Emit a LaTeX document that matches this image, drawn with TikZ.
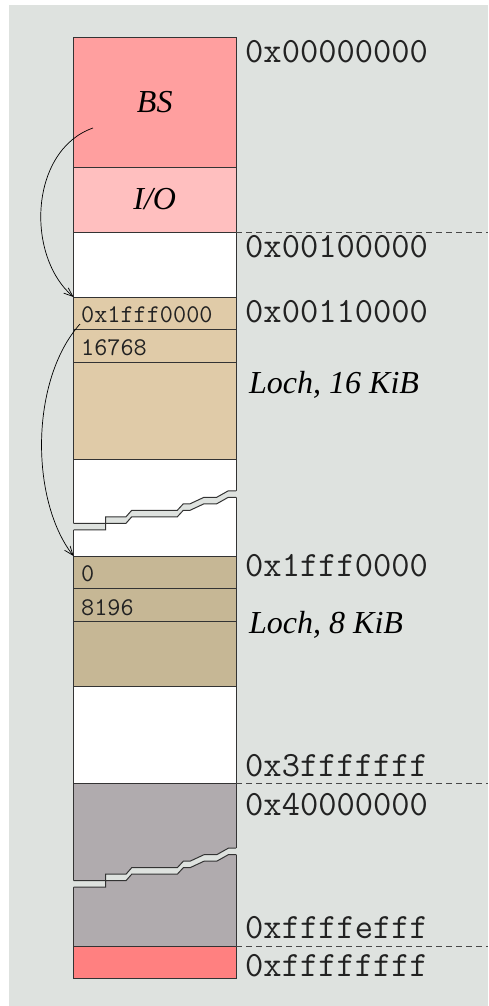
\documentclass[tikz,border=0pt]{standalone}
\usepackage{fontspec}
\setmainfont{Liberation Serif}
\usetikzlibrary{arrows.meta}
\definecolor{bgc}{HTML}{DEE2DF}
\definecolor{bsc}{HTML}{FF9F9F}
\definecolor{ioc}{HTML}{FFBFBF}
\definecolor{tanA}{HTML}{E0CBA8}
\definecolor{tanB}{HTML}{C6B795}
\definecolor{greyc}{HTML}{B0ABAE}
\definecolor{redc}{HTML}{FF8080}
\definecolor{linec}{HTML}{333333}
\definecolor{txtc}{HTML}{222222}
\newcommand\membreak[1]{%
  \begin{scope}[shift={(73.5,#1)}]
    \fill[bgc] (-1,0) -- (32.2,0) -- (32.2,-6.5) -- (52.5,-6.5) -- (58.2,-13) -- (103.8,-13) -- (109.8,-19.5) -- (116.5,-19.5) -- (130.5,-26) -- (143.2,-26) -- (154.8,-32.5) -- (163.5,-32.5)
      -- (163.5,-26) -- (154.8,-26) -- (143.2,-19.5) -- (130.5,-19.5) -- (116.5,-13) -- (109.8,-13) -- (103.8,-6.5) -- (58.2,-6.5) -- (52.5,0) -- (32.2,0) -- (32.2,6.5) -- (-1,6.5) -- cycle;
    \draw[brkline] (0,0) -- (32.2,0) -- (32.2,-6.5) -- (52.5,-6.5) -- (58.2,-13) -- (103.8,-13) -- (109.8,-19.5) -- (116.5,-19.5) -- (130.5,-26) -- (143.2,-26) -- (154.8,-32.5) -- (162.5,-32.5);
    \draw[brkline] (0,6.5) -- (32.2,6.5) -- (32.2,0) -- (52.5,0) -- (58.2,-6.5) -- (103.8,-6.5) -- (109.8,-13) -- (116.5,-13) -- (130.5,-19.5) -- (143.2,-19.5) -- (154.8,-26) -- (162.5,-26);
  \end{scope}}
\begin{document}
\begin{tikzpicture}[x=1pt,y=-1pt,
  seg/.style={draw=linec, line width=1pt, inner sep=0pt, outer sep=0pt, minimum width=162.5pt, anchor=north west},
  brkline/.style={draw=linec, line width=1pt},
  addr/.style={anchor=base west, inner sep=0pt, text=txtc, font=\ttfamily\fontsize{35.5}{35.5}\selectfont},
  small/.style={anchor=base west, inner sep=0pt, text=txtc, font=\ttfamily\fontsize{25.5}{25.5}\selectfont},
  ital/.style={font=\itshape\fontsize{32}{32}\selectfont},
  sep/.style={draw=linec!90, line width=0.8pt, dash pattern=on 6pt off 4pt},
  arr/.style={draw=black, line width=0.7pt, -{Straight Barb[length=9pt,width=7pt]}}]
\useasboundingbox (0,0) rectangle (488,1006);
\fill[bgc] (9,5) rectangle (488,1006);
% column
\node[seg, fill=bsc, minimum height=129.5pt, ital] (bs) at (73.5,37.5) {BS};
\node[seg, fill=ioc, minimum height=65pt, ital] (io) at (73.5,167) {I/O};
\node[seg, fill=white, minimum height=65pt] (w1) at (73.5,232) {};
\node[seg, fill=tanA, minimum height=32pt] (t1a) at (73.5,297) {};
\node[seg, fill=tanA, minimum height=33pt] (t1b) at (73.5,329) {};
\node[seg, fill=tanA, minimum height=97pt] (t1c) at (73.5,362) {};
\node[seg, fill=white, minimum height=97pt] (w2) at (73.5,459) {};
\node[seg, fill=tanB, minimum height=32pt] (t2a) at (73.5,556) {};
\node[seg, fill=tanB, minimum height=33pt] (t2b) at (73.5,588) {};
\node[seg, fill=tanB, minimum height=65pt] (t2c) at (73.5,621) {};
\node[seg, fill=white, minimum height=97pt] (w3) at (73.5,686) {};
\node[seg, fill=greyc, minimum height=163pt] (g) at (73.5,783) {};
\node[seg, fill=redc, minimum height=32pt] (r) at (73.5,946) {};
% breaks
\membreak{523.3}
\membreak{880.7}
% texts inside
\node[small] (s1) at (81,322) {0x1fff0000};
\node[small] (s2) at (81,355) {16768};
\node[small] (s3) at (81,581.5) {0};
\node[small] (s4) at (81,615) {8196};
% address labels
\node[addr] (l0) at (245,63) {0x00000000};
\node[addr] (l1) at (245,257) {0x00100000};
\node[addr] (l2) at (245,322) {0x00110000};
\node[addr] (l3) at (245,576) {0x1fff0000};
\node[addr] (l4) at (245,776.5) {0x3fffffff};
\node[addr] (l5) at (245,815.5) {0x40000000};
\node[addr] (l6) at (245,938) {0xffffefff};
\node[addr] (l7) at (245,976.5) {0xffffffff};
\node[ital, anchor=base west, inner sep=0pt] (h1) at (249,393) {Loch, 16 KiB};
\node[ital, anchor=base west, inner sep=0pt] (h2) at (249,633) {Loch, 8 KiB};
% separators
\coordinate (e1) at (488,232);
\coordinate (e2) at (488,783);
\coordinate (e3) at (488,946);
\draw[sep] (io.south east) -- (e1);
\draw[sep] (g.north east) -- (e2);
\draw[sep] (r.north east) -- (e3);
% arrows
\coordinate (a1) at (93,128);
\coordinate (a2) at (80,324);
\draw[arr] (a1) .. controls (30,150) and (25,255) .. (t1a.north west);
\draw[arr] (a2) .. controls (30,380) and (30,500) .. (t2a.north west);
\end{tikzpicture}
\end{document}
